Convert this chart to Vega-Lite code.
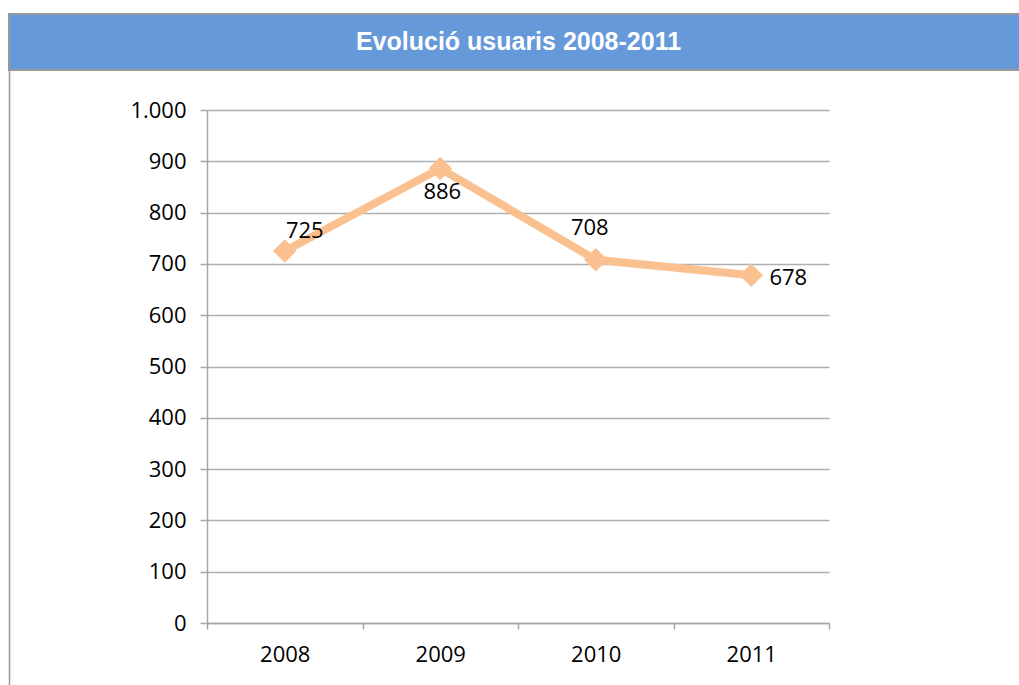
{
  "$schema": "https://vega.github.io/schema/vega-lite/v6.json",
  "padding": {"left": 8, "top": 13, "right": 0, "bottom": 0},
  "background": "white",
  "config": {
    "font": "Open Sans"
  },
  "datasets": {
    "header": [{"title": "Evolució usuaris 2008-2011"}],
    "users": [
      {"year": "2008", "users": 725},
      {"year": "2009", "users": 886},
      {"year": "2010", "users": 708},
      {"year": "2011", "users": 678}
    ]
  },
  "columns": 1,
  "bounds": "flush",
  "spacing": 0,
  "concat": [
    {
      "width": 1011,
      "height": 56,
      "view": {"fill": "#6699D9", "stroke": "#999999", "strokeWidth": 2},
      "data": {"name": "header"},
      "mark": {"type": "text", "font": "Liberation Sans", "fontWeight": "bold", "fontSize": 25, "color": "white", "baseline": "middle", "dx": 4},
      "encoding": {"text": {"field": "title"}}
    },
    {
      "bounds": "flush",
      "spacing": 0,
      "hconcat": [
        {
          "width": 198,
          "height": 616,
          "view": {"stroke": null},
          "data": {"name": "users"},
          "mark": {"type": "point", "opacity": 0},
          "encoding": {
            "y": {
              "field": "users", "type": "quantitative",
              "axis": {"title": null, "labels": false, "ticks": false, "grid": false, "domain": true, "domainColor": "#999999", "domainWidth": 1.5}
            }
          }
        },
        {
          "bounds": "flush",
          "spacing": 0,
          "vconcat": [
            {
              "width": 622,
              "height": 40,
              "view": {"stroke": null},
              "data": {"name": "header"},
              "mark": {"type": "text", "opacity": 0},
              "encoding": {"text": {"value": ""}}
            },
            {
              "width": 622,
              "height": 513,
              "view": {"stroke": null},
              "data": {"name": "users"},
              "encoding": {
                "x": {
                  "field": "year", "type": "ordinal",
                  "scale": {"paddingInner": 0, "paddingOuter": 0},
                  "axis": {
                    "title": null, "labelAngle": 0, "tickBand": "extent",
                    "domainColor": "#a6a6a6", "domainWidth": 1.5,
                    "tickColor": "#a6a6a6", "tickWidth": 1.5, "tickSize": 6,
                    "labelFontSize": 22, "labelColor": "#000", "labelPadding": 15
                  }
                },
                "y": {
                  "field": "users", "type": "quantitative",
                  "scale": {"domain": [0, 1000]},
                  "axis": {
                    "title": null, "values": [0, 100, 200, 300, 400, 500, 600, 700, 800, 900, 1000],
                    "labelExpr": "replace(format(datum.value, ','), ',', '.')",
                    "domainColor": "#a6a6a6", "domainWidth": 1.5,
                    "gridColor": "#b0b0b0", "gridWidth": 1.5,
                    "tickColor": "#a6a6a6", "tickWidth": 1.5, "tickSize": 7,
                    "labelFontSize": 22, "labelColor": "#000", "labelPadding": 14
                  }
                }
              },
              "layer": [
                {"mark": {"type": "line", "color": "#FAC090", "strokeWidth": 8}},
                {"mark": {"type": "point", "shape": "diamond", "filled": true, "color": "#FAC090", "opacity": 1, "size": 550}},
                {
                  "transform": [{"filter": "datum.year == '2008'"}],
                  "mark": {"type": "text", "fontSize": 22, "color": "#000", "dx": 20, "dy": -20},
                  "encoding": {"text": {"field": "users"}}
                },
                {
                  "transform": [{"filter": "datum.year == '2009'"}],
                  "mark": {"type": "text", "fontSize": 22, "color": "#000", "dx": 2, "dy": 24},
                  "encoding": {"text": {"field": "users"}}
                },
                {
                  "transform": [{"filter": "datum.year == '2010'"}],
                  "mark": {"type": "text", "fontSize": 22, "color": "#000", "dx": -6, "dy": -32},
                  "encoding": {"text": {"field": "users"}}
                },
                {
                  "transform": [{"filter": "datum.year == '2011'"}],
                  "mark": {"type": "text", "fontSize": 22, "color": "#000", "dx": 37, "dy": 3},
                  "encoding": {"text": {"field": "users"}}
                }
              ]
            }
          ]
        }
      ]
    }
  ]
}
